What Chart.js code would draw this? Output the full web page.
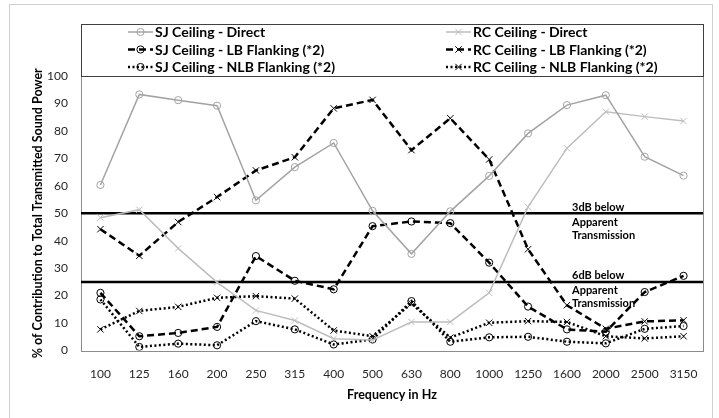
<!DOCTYPE html>
<html>
<head>
<meta charset="utf-8">
<script src="https://cdn.jsdelivr.net/npm/chart.js"></script>
<style>
  html, body { margin: 0; padding: 0; background: #ffffff; }
  #wrap { width: 719px; height: 418px; }
</style>
</head>
<body>
<div id="wrap"><canvas id="c" width="719" height="418"></canvas></div>
<script>
// ---------- data ----------
const categories = ['100','125','160','200','250','315','400','500','630','800','1000','1250','1600','2000','2500','3150'];
const sjDirect = [60.3, 93.3, 91.2, 89.2, 54.7, 66.8, 75.6, 50.9, 35.2, 50.7, 63.6, 79.1, 89.4, 93.0, 70.6, 63.7];
const rcDirect = [48.4, 51.3, 37.2, 24.8, 14.6, 10.9, 4.3, 3.8, 10.4, 10.4, 21.0, 52.3, 73.7, 87.0, 85.2, 83.6];
const sjLB     = [21.0, 5.2, 6.4, 8.6, 34.4, 25.4, 22.3, 45.3, 47.0, 46.4, 32.0, 16.0, 7.7, 6.8, 21.3, 27.2];
const rcLB     = [44.2, 34.5, 46.8, 55.9, 65.6, 70.4, 88.2, 91.3, 73.0, 84.6, 69.6, 36.9, 16.5, 7.9, 10.6, 11.0];
const sjNLB    = [18.6, 1.3, 2.5, 1.9, 10.7, 7.7, 2.2, 4.0, 18.0, 3.2, 4.8, 5.0, 3.2, 2.6, 7.9, 8.9];
const rcNLB    = [7.7, 14.4, 15.9, 19.2, 19.8, 18.9, 7.3, 5.2, 17.1, 4.7, 10.1, 10.7, 10.4, 5.2, 4.4, 5.2];
const yTicks = [0, 10, 20, 30, 40, 50, 60, 70, 80, 90, 100];
const thresholds = [50, 25];
const thresholdLabels = [['3dB below', 'Apparent', 'Transmission'], ['6dB below', 'Apparent', 'Transmission']];

// ---------- styles ----------
const FONT = 'Lato, "Open Sans", "DejaVu Sans", sans-serif';
const BLACK = '#000000';
const G1 = '#a3a3a3';
const G2 = '#bdbdbd';
const DASH = [7, 4];
const DOT = [2, 2.5];

function ds(label, data, color, width, dash, style, radius) {
  return {
    label, data,
    borderColor: color, borderWidth: width, borderDash: dash,
    backgroundColor: 'transparent',
    pointStyle: style, pointRadius: radius, pointHoverRadius: radius,
    pointBorderColor: color, pointBackgroundColor: 'rgba(0,0,0,0)', pointBorderWidth: 1,
    tension: 0, fill: false
  };
}

const datasets = [
  ds('SJ Ceiling - Direct', sjDirect, G1, 1.5, [], 'circle', 3.6),
  ds('RC Ceiling - Direct', rcDirect, G2, 1.5, [], 'crossRot', 4.5),
  ds('SJ Ceiling - LB Flanking (*2)', sjLB, BLACK, 2.5, DASH, 'circle', 3.6),
  ds('RC Ceiling - LB Flanking (*2)', rcLB, BLACK, 2.5, DASH, 'crossRot', 4.5),
  ds('SJ Ceiling - NLB Flanking (*2)', sjNLB, BLACK, 2.5, DOT, 'circle', 3.6),
  ds('RC Ceiling - NLB Flanking (*2)', rcNLB, BLACK, 2.5, DOT, 'crossRot', 4.5)
];

const decor = {
  id: 'decor',
  beforeDraw(chart) {
    const ctx = chart.ctx;
    ctx.save();
    ctx.strokeStyle = '#d0d0d0';
    ctx.lineWidth = 1;
    ctx.strokeRect(9.5, 4.5, 703, 430);
    ctx.restore();
  },
  beforeDatasetsDraw(chart) {
    const ctx = chart.ctx, a = chart.chartArea, y = chart.scales.y;
    ctx.save();
    ctx.strokeStyle = '#8c8c8c';
    ctx.lineWidth = 1;
    ctx.strokeRect(Math.round(a.left) + 0.5, Math.round(a.top) + 0.5, Math.round(a.right - a.left), Math.round(a.bottom - a.top));
    ctx.strokeStyle = '#000';
    ctx.lineWidth = 2.5;
    thresholds.forEach(v => {
      const py = y.getPixelForValue(v);
      ctx.beginPath();
      ctx.moveTo(a.left, py);
      ctx.lineTo(a.right, py);
      ctx.stroke();
    });
    ctx.restore();
  },
  afterDraw(chart) {
    const ctx = chart.ctx, a = chart.chartArea, y = chart.scales.y;
    ctx.save();
    ctx.fillStyle = '#000';
    ctx.font = 'bold 11px ' + FONT;
    ctx.textAlign = 'left';
    ctx.textBaseline = 'middle';
    thresholds.forEach((v, i) => {
      const py = y.getPixelForValue(v);
      const lines = thresholdLabels[i];
      ctx.fillText(lines[0], 572, py - 6);
      ctx.fillText(lines[1], 572, py + 9);
      ctx.fillText(lines[2], 572, py + 22);
    });
    const top = 24;
    ctx.strokeStyle = '#404040';
    ctx.lineWidth = 1;
    ctx.strokeRect(Math.round(a.left) + 0.5, top + 0.5, Math.round(a.right - a.left), Math.round(a.top) - top);
    const colX = [128, 446];
    const rowY = [32, 49.5, 67];
    ctx.font = 'bold 14px ' + FONT;
    chart.data.datasets.forEach((d, i) => {
      const cx = colX[i % 2], cy = rowY[Math.floor(i / 2)];
      ctx.save();
      ctx.strokeStyle = d.borderColor;
      ctx.lineWidth = d.borderWidth;
      ctx.setLineDash(d.borderDash || []);
      ctx.beginPath();
      ctx.moveTo(cx, cy);
      ctx.lineTo(cx + 25, cy);
      ctx.stroke();
      ctx.setLineDash([]);
      ctx.strokeStyle = d.pointBorderColor;
      ctx.fillStyle = 'rgba(0,0,0,0)';
      ctx.lineWidth = 1;
      Chart.helpers.drawPoint(ctx, {pointStyle: d.pointStyle, rotation: 0, radius: d.pointRadius, borderWidth: 1}, cx + 12.5, cy);
      ctx.restore();
      ctx.fillStyle = '#000';
      ctx.textAlign = 'left';
      ctx.textBaseline = 'middle';
      ctx.fillText(d.label, cx + 27, cy + 0.5);
    });
    ctx.restore();
  }
};

new Chart(document.getElementById('c'), {
  type: 'line',
  data: { labels: categories, datasets },
  options: {
    responsive: false,
    animation: false,
    devicePixelRatio: 1,
    layout: { padding: { top: 76, right: 16, left: 0, bottom: 0 } },
    plugins: { legend: { display: false }, tooltip: { enabled: false } },
    scales: {
      x: {
        offset: true,
        grid: { display: false, drawTicks: false },
        border: { display: false },
        ticks: { color: '#262626', font: { family: FONT, size: 12 }, padding: 16, maxRotation: 0, autoSkip: false },
        title: { display: true, text: 'Frequency in Hz', color: '#000', font: { family: FONT, size: 12.5, weight: 'bold' }, padding: { top: 4, bottom: 16 } },
        afterFit(s) { s.height = 67.5; }
      },
      y: {
        min: 0, max: 100,
        afterBuildTicks(s) { s.ticks = yTicks.map(v => ({ value: v })); },
        grid: { display: false, drawTicks: false },
        border: { display: false },
        ticks: { color: '#262626', font: { family: FONT, size: 12 }, padding: 13 },
        title: { display: true, text: '% of Contribution to Total Transmitted Sound Power', color: '#000', font: { family: FONT, size: 12.5, weight: 'bold' }, padding: { top: 30, bottom: 0 } },
        afterFit(s) { s.width = 81; }
      }
    }
  },
  plugins: [decor]
});
</script>
</body>
</html>
